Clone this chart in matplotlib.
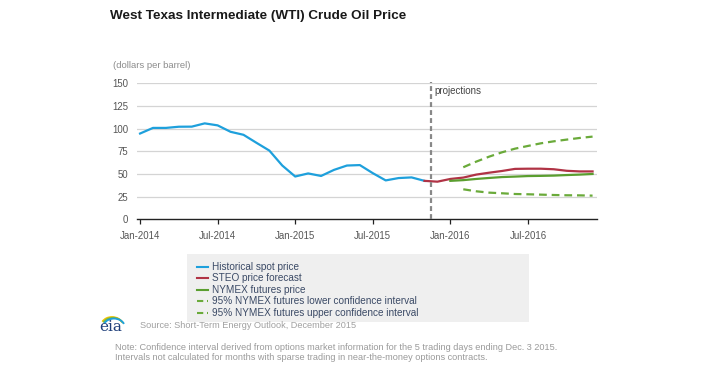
import matplotlib
matplotlib.use("Agg")
import matplotlib.pyplot as plt
import numpy as np
from matplotlib.patches import Rectangle, Arc

plt.rcParams['font.family'] = ['Liberation Sans', 'DejaVu Sans']

# months since Jan-2014
hist_months = list(range(0, 23))  # Jan-2014 .. Nov-2015
hist_values = [94.6, 100.8, 100.8, 102.1, 102.2, 105.8, 103.6, 96.5, 93.2, 84.4, 75.8, 59.3,
               47.2, 50.6, 47.8, 54.5, 59.3, 59.8, 50.9, 42.9, 45.5, 46.2, 42.4]

steo_months = list(range(22, 36))  # Nov-2015 .. Dec-2016
steo_values = [42.4, 41.5, 44.5, 46.0, 49.3, 51.4, 53.3, 55.6, 55.8, 55.8, 55.2, 53.5, 52.8, 52.8]

nymex_months = list(range(24, 36))  # Jan-2016 .. Dec-2016
nymex_values = [42.4, 43.2, 44.5, 45.6, 46.6, 47.1, 47.7, 47.9, 48.2, 48.8, 49.3, 50.0]

ci_months = list(range(25, 36))  # Feb-2016 .. Dec-2016
ci_lower = [33.1, 30.9, 29.4, 28.7, 27.9, 27.6, 27.2, 26.8, 26.5, 26.4, 26.1]
ci_upper = [57.4, 63.6, 69.1, 73.9, 77.9, 80.9, 83.8, 86.0, 87.9, 89.7, 91.2]

proj_start = 22.5
tick_months = [0, 6, 12, 18, 24, 30]
tick_labels = ["Jan-2014", "Jul-2014", "Jan-2015", "Jul-2015", "Jan-2016", "Jul-2016"]
y_ticks = [0, 25, 50, 75, 100, 125, 150]

blue = "#1ea0dc"
red = "#b03345"
green = "#5a9e2f"
dgreen = "#6aaa3a"
gray_txt = "#8c8c8c"

W, H = 702, 371
fig = plt.figure(figsize=(W / 100, H / 100), dpi=100)
ax = fig.add_axes([136.7 / W, 1 - 219.3 / H, (596.7 - 136.7) / W, (219.3 - 83.3) / H])

ax.set_xlim(-0.26, 35.32)
ax.set_ylim(0, 150)
for y in y_ticks[1:]:
    ax.axhline(y, color="#d4d4d4", lw=0.9, zorder=0)

ax.plot(hist_months, hist_values, color=blue, lw=1.6, zorder=3)
ax.plot(steo_months, steo_values, color=red, lw=1.6, zorder=3)
ax.plot(nymex_months, nymex_values, color=green, lw=1.6, zorder=3)
ax.plot(ci_months, ci_lower, color=dgreen, lw=1.6, ls=(0, (3.5, 2.2)), zorder=3)
ax.plot(ci_months, ci_upper, color=dgreen, lw=1.6, ls=(0, (3.5, 2.2)), zorder=3)

ax.plot([proj_start, proj_start], [0, 151.5], color="#888888", lw=1.6, ls=(0, (2.2, 1.4)),
        zorder=4, clip_on=False)
ax.text(proj_start + 0.25, 141, "projections", fontsize=7.0, color="#444444", va="center", ha="left")

for s in ["top", "right", "left"]:
    ax.spines[s].set_visible(False)
ax.spines["bottom"].set_color("#222222")
ax.spines["bottom"].set_linewidth(1.0)

ax.set_xticks(tick_months)
ax.set_xticklabels(tick_labels, fontsize=6.9, color="#555555")
ax.set_yticks(y_ticks)
ax.set_yticklabels([str(v) for v in y_ticks], fontsize=6.9, color="#555555")
ax.tick_params(axis="x", length=3.5, width=0.9, color="#222222", pad=5)
ax.tick_params(axis="y", length=0, pad=6)

fig.text(110 / W, 1 - 16 / H, "West Texas Intermediate (WTI) Crude Oil Price",
         fontsize=9.7, fontweight="bold", color="#1a1a1a", va="center", ha="left")
fig.text(113 / W, 1 - 66 / H, "(dollars per barrel)", fontsize=6.8, color=gray_txt,
         va="center", ha="left")

# legend box
fig.patches.append(Rectangle((187.3 / W, 1 - 322.3 / H), (529.3 - 187.3) / W, (322.3 - 254.3) / H,
                             transform=fig.transFigure, facecolor="#efefef", edgecolor="none", zorder=0))
leg_items = [("Historical spot price", blue, "-"),
             ("STEO price forecast", red, "-"),
             ("NYMEX futures price", green, "-"),
             ("95% NYMEX futures lower confidence interval", dgreen, "--"),
             ("95% NYMEX futures upper confidence interval", dgreen, "--")]
ys = [266.7, 278.2, 289.8, 301.3, 312.8]
for (lab, col, ls), yp in zip(leg_items, ys):
    yy = 1 - yp / H
    fig.add_artist(plt.Line2D([196.7 / W, 207.5 / W], [yy, yy], color=col, lw=1.5,
                              ls=(0, (3, 1.8)) if ls == "--" else "-", transform=fig.transFigure))
    fig.text(211.7 / W, yy, lab, fontsize=7.2, color="#3b4a66", va="center", ha="left")

# eia logo
fig.text(99 / W, 1 - 327 / H, "eia", fontsize=11, family="DejaVu Serif", color="#1f3f7a",
         va="center", ha="left")
for i, c in enumerate(["#f2c500", "#7ab648", "#1ea0dc"]):
    fig.add_artist(Arc(((112 + i) / W, 1 - (326 + i * 0.8) / H), 22 / W, 18 / H, theta1=35, theta2=140,
                       color=c, lw=1.3, transform=fig.transFigure))

fig.text(140 / W, 1 - 325 / H, "Source: Short-Term Energy Outlook, December 2015",
         fontsize=6.6, color="#a0a0a0", va="center", ha="left")
fig.text(115 / W, 1 - 347.3 / H,
         "Note: Confidence interval derived from options market information for the 5 trading days ending Dec. 3 2015.",
         fontsize=6.55, color="#9a9a9a", va="center", ha="left")
fig.text(115 / W, 1 - 357.8 / H,
         "Intervals not calculated for months with sparse trading in near-the-money options contracts.",
         fontsize=6.55, color="#9a9a9a", va="center", ha="left")

fig.savefig("out.png", dpi=100)
